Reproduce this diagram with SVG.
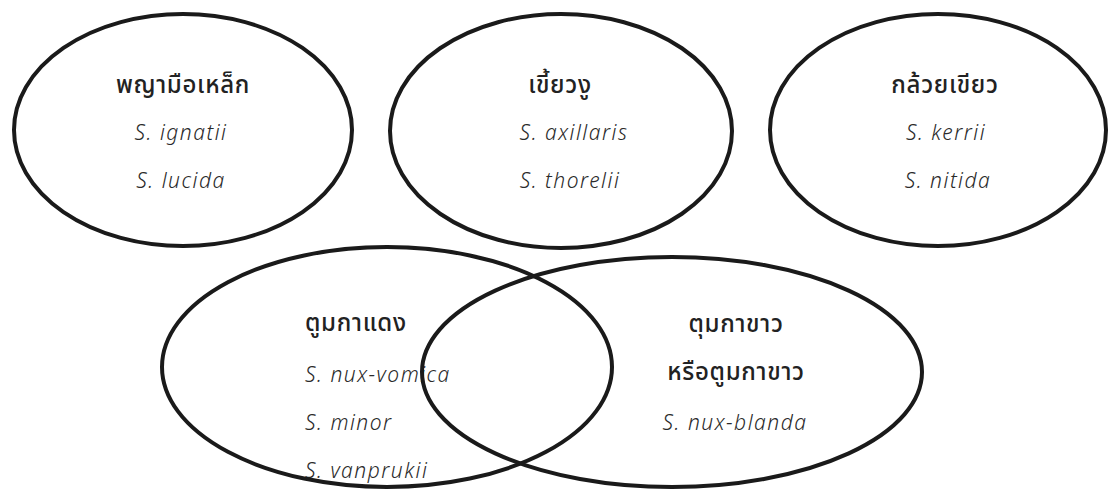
<svg xmlns="http://www.w3.org/2000/svg" width="1108" height="492" viewBox="0 0 1108 492">
<style>
.ring{fill:none;stroke:#1a1a1a;stroke-width:4}
.th{font-family:"Noto Sans","Noto Sans Thai","Noto Sans Thai Looped",sans-serif;font-size:24px;font-weight:500;letter-spacing:0.7px;fill:#222}
.sp{font-family:"Noto Sans",sans-serif;font-size:21px;font-style:italic;font-weight:300;letter-spacing:1.5px;fill:#2a2a2a}
.m{text-anchor:middle}
</style>
<rect width="1108" height="492" fill="#ffffff"/>
<g id="n1">
<ellipse class="ring" cx="183" cy="130" rx="169" ry="116"/>
<text class="th m" x="183" y="93">พญามือเหล็ก</text>
<text class="sp m" x="181" y="140">S. ignatii</text>
<text class="sp m" x="181" y="188">S. lucida</text>
</g>
<g id="n2">
<ellipse class="ring" cx="561" cy="131" rx="171" ry="117"/>
<text class="th m" x="560" y="93">เขี้ยวงู</text>
<text class="sp m" x="574" y="140">S. axillaris</text>
<text class="sp m" x="570" y="188">S. thorelii</text>
</g>
<g id="n3">
<ellipse class="ring" cx="938" cy="130" rx="168" ry="116"/>
<text class="th m" x="945" y="93">กล้วยเขียว</text>
<text class="sp m" x="946" y="140">S. kerrii</text>
<text class="sp m" x="948" y="188">S. nitida</text>
</g>
<g id="n4">
<text class="th" x="305" y="331">ตูมกาแดง</text>
<text class="sp" x="305" y="382">S. nux-vomica</text>
<text class="sp" x="305" y="430">S. minor</text>
<text class="sp" x="305" y="478">S. vanprukii</text>
<ellipse class="ring" cx="387" cy="367" rx="225" ry="120"/>
</g>
<g id="n5">
<text class="th m" x="736" y="332">ตุมกาขาว</text>
<text class="th m" x="736" y="380">หรือตูมกาขาว</text>
<text class="sp m" x="735" y="430">S. nux-blanda</text>
<ellipse class="ring" cx="672" cy="372" rx="250" ry="115"/>
</g>
<g id="connectors"></g>
</svg>
